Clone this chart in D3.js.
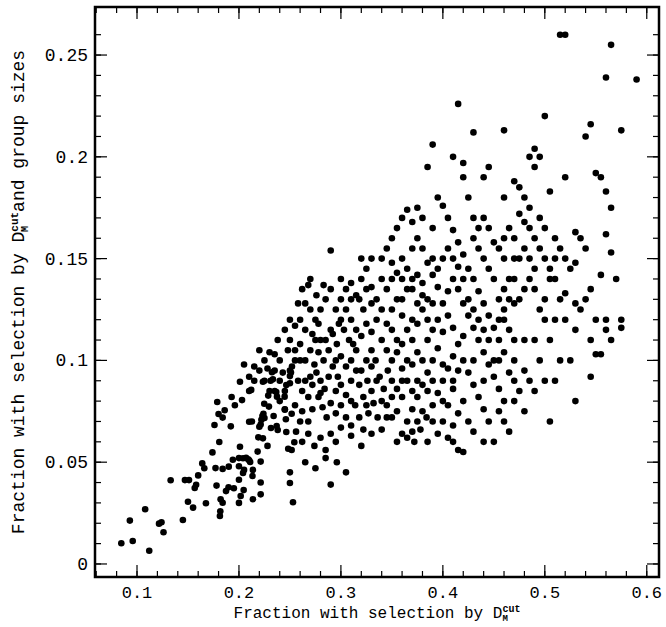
<!DOCTYPE html>
<html><head><meta charset="utf-8">
<script src="https://cdn.jsdelivr.net/npm/d3@7"></script>
<style>body{margin:0;background:#fff}</style></head>
<body><svg id="c" width="666" height="627"></svg>
<script>
const xTicks=[0.1,0.2,0.3,0.4,0.5,0.6];
const yTicks=[0,0.05,0.1,0.15,0.2,0.25];
const xTickLabels=["0.1","0.2","0.3","0.4","0.5","0.6"];
const yTickLabels=["0","0.05","0.1","0.15","0.2","0.25"];
const pointsLow=[[.0846,.0102],[.0958,.0113],[.112,.0065],[.093,.0213],[.108,.0269],[.1216,.0198],[.124,.0205],[.126,.0156],[.145,.0216],[.133,.0411],[.147,.0412],[.151,.0412],[.150,.0306],[.155,.0277],[.1566,.0373],[.158,.0389],[.160,.0435],[.164,.0494],[.166,.047],[.1676,.0298],[.174,.0548],[.177,.0471],[.178,.0385],[.1807,.0599],[.176,.0683],[.1787,.0796],[.180,.0737],[.184,.0719],[.186,.0755],[.192,.0676],[.1928,.082],[.196,.078],[.201,.0895],[.203,.0805],[.184,.0467],[.190,.0478],[.194,.0512],[.182,.0318],[.184,.0301],[.1817,.0259],[.1813,.0236],[.1873,.0358],[.1898,.0377],[.195,.0372],[.200,.048],[.200,.0414],[.201,.0576],[.200,.052],[.204,.0519],[.207,.0522],[.209,.0514],[.210,.0509],[.211,.0501],[.205,.0462],[.204,.0447],[.2046,.0363],[.2017,.0334],[.2,.03],[.2137,.0462],[.2133,.0432],[.2213,.0503],[.2213,.04],[.2213,.0342],[.2137,.0318],[.2183,.0552],[.219,.0622],[.228,.058],[.2235,.0617],[.210,.0699],[.2127,.070],[.220,.0674],[.2213,.0685],[.222,.0708],[.225,.0717],[.224,.0738],[.223,.0727],[.2248,.0787],[.2294,.0773],[.2287,.0827],[.234,.0727],[.2373,.0822],[.2366,.0845],[.2235,.0895],[.231,.090],[.2333,.0907],[.212,.0855],[.2314,.0668],[.237,.0678],[.238,.0658],[.2464,.0648],[.245,.0758],[.246,.0711],[.2448,.0822],[.2464,.0879],[.25,.0888],[.251,.094],[.25,.0923],[.2324,.0942],[.2517,.0738],[.2483,.0566],[.2517,.056],[.25,.045],[.25,.0398],[.253,.0303],[.2543,.0598],[.29,.039]];
const pointsMid=[[.205,.098],[.21,.092],[.215,.097],[.22,.105],[.225,.1],[.23,.104],[.228,.096],[.235,.103],[.24,.1],[.243,.094],[.238,.11],[.245,.115],[.25,.11],[.248,.105],[.255,.117],[.26,.12],[.258,.128],[.262,.135],[.268,.137],[.265,.128],[.27,.125],[.275,.12],[.272,.113],[.278,.118],[.28,.125],[.285,.13],[.29,.135],[.283,.137],[.29,.154],[.295,.125],[.298,.118],[.3,.13],[.305,.125],[.31,.12],[.303,.115],[.308,.11],[.312,.108],[.318,.13],[.322,.125],[.325,.118],[.32,.112],[.315,.105],[.31,.1],[.305,.097],[.3,.102],[.296,.108],[.292,.113],[.288,.105],[.283,.1],[.278,.104],[.274,.098],[.27,.092],[.265,.1],[.26,.108],[.255,.1],[.252,.097],[.258,.09],[.262,.085],[.268,.082],[.272,.088],[.276,.094],[.28,.09],[.284,.086],[.288,.092],[.292,.097],[.297,.092],[.3,.088],[.305,.083],[.31,.09],[.315,.095],[.318,.088],[.322,.082],[.326,.09],[.33,.097],[.334,.1],[.338,.092],[.342,.086],[.346,.095],[.35,.1],[.262,.075],[.268,.07],[.272,.076],[.278,.082],[.282,.077],[.286,.072],[.29,.079],[.295,.074],[.3,.078],[.305,.072],[.31,.068],[.314,.078],[.318,.072],[.322,.066],[.327,.074],[.332,.079],[.336,.072],[.34,.066],[.345,.078],[.35,.072],[.256,.065],[.262,.06],[.268,.064],[.274,.058],[.28,.062],[.285,.056],[.29,.064],[.295,.06],[.3,.067],[.31,.063],[.32,.058],[.33,.064],[.265,.05],[.275,.047],[.285,.052],[.296,.05],[.305,.045],[.27,.14],[.276,.132],[.3,.14],[.305,.135],[.31,.138],[.315,.132],[.32,.14],[.325,.145],[.33,.136],[.335,.13],[.34,.14],[.345,.135],[.335,.12],[.33,.114],[.34,.11],[.345,.118],[.35,.125],[.355,.13],[.36,.122],[.365,.115],[.36,.108],[.355,.104],[.36,.096],[.365,.09],[.37,.098],[.375,.104],[.37,.11],[.375,.118],[.38,.125],[.385,.13],[.38,.138],[.375,.142],[.37,.135],[.365,.145],[.36,.15],[.355,.143],[.35,.148],[.345,.155],[.35,.16],[.355,.165],[.36,.17],[.365,.174],[.37,.168],[.375,.16],[.38,.155],[.385,.148],[.39,.142],[.395,.136],[.39,.128],[.395,.12],[.4,.114],[.395,.106],[.39,.1],[.385,.094],[.38,.088],[.375,.082],[.37,.076],[.365,.07],[.36,.064],[.355,.06],[.36,.082],[.355,.086],[.35,.09],[.365,.062],[.372,.06],[.378,.066],[.384,.072],[.39,.078],[.395,.084],[.4,.09],[.405,.096],[.41,.102],[.415,.108],[.41,.116],[.405,.122],[.4,.128],[.405,.134],[.41,.14],[.415,.146],[.42,.152],[.415,.158],[.41,.164],[.405,.17],[.4,.176],[.395,.18],[.385,.195],[.39,.206],[.41,.2],[.42,.197],[.42,.19],[.415,.226],[.43,.212],[.425,.18],[.43,.17],[.435,.165],[.44,.17],[.445,.165],[.44,.19],[.445,.195],[.45,.158],[.455,.155],[.46,.16],[.465,.165],[.47,.16],[.475,.172],[.48,.168],[.485,.165],[.49,.16],[.495,.155],[.5,.15],[.505,.145],[.51,.14],[.46,.18],[.47,.188],[.475,.185],[.48,.18],[.46,.213],[.485,.2],[.49,.195],[.49,.204],[.495,.2],[.5,.22],[.505,.183],[.425,.145],[.43,.14],[.435,.134],[.44,.128],[.445,.122],[.45,.116],[.455,.11],[.46,.104],[.42,.128],[.425,.122],[.43,.116],[.435,.11],[.44,.104],[.445,.098],[.45,.092],[.455,.086],[.46,.08],[.42,.1],[.425,.094],[.43,.088],[.435,.082],[.44,.076],[.445,.07],[.42,.08],[.415,.074],[.41,.068],[.405,.062],[.4,.07],[.395,.064],[.41,.086],[.405,.078],[.4,.098],[.42,.055],[.415,.056],[.45,.06],[.465,.065],[.47,.08],[.465,.094],[.47,.1],[.48,.095],[.49,.085],[.5,.09],[.48,.11],[.475,.13],[.47,.128],[.48,.135],[.485,.14],[.49,.145],[.465,.14],[.46,.135],[.455,.13],[.45,.14],[.445,.145],[.44,.15],[.435,.155],[.43,.16],[.5,.12],[.505,.11],[.51,.12],[.515,.1],[.52,.12],[.515,.13],[.52,.133],[.53,.128],[.54,.13],[.545,.135],[.505,.07],[.525,.1],[.53,.08],[.545,.092],[.545,.11],[.55,.12],[.53,.148],[.53,.163],[.535,.16],[.54,.155],[.555,.142],[.555,.103],[.55,.103],[.56,.12],[.565,.11],[.56,.115],[.575,.12],[.575,.116],[.57,.14],[.565,.153],[.56,.162],[.565,.175],[.56,.183],[.555,.19],[.55,.192],[.52,.19],[.54,.21],[.545,.216],[.575,.213],[.56,.239],[.59,.238],[.565,.255],[.515,.26],[.52,.26],[.51,.16],[.5,.165],[.495,.17],[.485,.175],[.47,.15],[.46,.15],[.39,.165],[.38,.17],[.375,.175],[.37,.155],[.36,.14],[.35,.14],[.34,.15],[.33,.15],[.32,.15],[.345,.105],[.325,.1],[.32,.095],[.33,.085],[.34,.08],[.35,.082],[.385,.11],[.39,.115],[.38,.1],[.375,.09],[.37,.085],[.385,.085],[.39,.09],[.41,.09],[.415,.095],[.42,.112],[.43,.1],[.44,.09],[.455,.1],[.46,.12],[.465,.115],[.47,.11],[.47,.09],[.475,.085],[.48,.075],[.46,.07],[.455,.075],[.44,.06],[.43,.065],[.425,.07],[.41,.06],[.4,.08],[.39,.07],[.385,.06],[.38,.075],[.375,.07],[.37,.065],[.33,.105],[.315,.115],[.29,.115],[.285,.11],[.275,.11],[.265,.115],[.25,.095],[.245,.085],[.24,.08],[.235,.085],[.245,.076],[.255,.078],[.26,.07],[.265,.09],[.28,.084],[.295,.085],[.31,.08],[.325,.078],[.335,.09],[.345,.072],[.355,.075],[.36,.09],[.365,.1],[.37,.12],[.375,.128],[.38,.132],[.385,.12],[.39,.15],[.395,.145],[.4,.15],[.405,.155],[.41,.15],[.415,.135],[.42,.14],[.425,.13],[.43,.125],[.435,.12],[.44,.115],[.445,.11],[.45,.1],[.455,.12],[.46,.125],[.465,.13],[.47,.14],[.475,.15],[.48,.155],[.485,.15],[.49,.135],[.495,.125],[.5,.13],[.505,.14],[.51,.15],[.515,.155],[.52,.15],[.525,.145],[.49,.11],[.495,.1],[.485,.09],[.51,.09],[.53,.115],[.535,.125],[.35,.115],[.355,.11],[.36,.13],[.365,.135],[.37,.14],[.34,.125],[.33,.128],[.325,.135],[.31,.13],[.3,.12],[.295,.1],[.28,.11],[.27,.105],[.26,.1],[.255,.105],[.25,.12],[.24,.09],[.235,.095],[.23,.085],[.225,.09],[.22,.095],[.215,.09],[.21,.085]];
const points=pointsLow.concat(pointsMid);

const W=666,H=627,L=95,R=659,T=7,B=577;
const x=d3.scaleLinear().domain([0.0588,0.612]).range([L,R]);
const y=d3.scaleLinear().domain([-0.0064,0.2736]).range([B,T]);
const svg=d3.select("#c");
const font="'Liberation Mono', monospace";
svg.append("g").selectAll("circle").data(points).join("circle")
 .attr("cx",d=>x(d[0])).attr("cy",d=>y(d[1])).attr("r",3.3).attr("fill","#000");
svg.append("rect").attr("x",L).attr("y",T).attr("width",R-L).attr("height",B-T)
 .attr("fill","none").attr("stroke","#000").attr("stroke-width",2.5);
const minorX=d3.range(0.06,0.612,0.02), minorY=d3.range(0,0.27,0.01);
function ticks(vals,len,isX){
 vals.forEach(v=>{
  if(isX){const p=x(v);
   svg.append("line").attr("x1",p).attr("x2",p).attr("y1",B).attr("y2",B-len).attr("stroke","#000").attr("stroke-width",1.2);
   svg.append("line").attr("x1",p).attr("x2",p).attr("y1",T).attr("y2",T+len).attr("stroke","#000").attr("stroke-width",1.2);
  } else {const p=y(v);
   svg.append("line").attr("y1",p).attr("y2",p).attr("x1",L).attr("x2",L+len).attr("stroke","#000").attr("stroke-width",1.2);
   svg.append("line").attr("y1",p).attr("y2",p).attr("x1",R).attr("x2",R-len).attr("stroke","#000").attr("stroke-width",1.2);
  }});
}
ticks(minorX,6,true);ticks(xTicks,12,true);ticks(minorY,6,false);ticks(yTicks,12,false);
xTicks.forEach((v,i)=>svg.append("text").attr("x",x(v)).attr("y",B+21).attr("text-anchor","middle")
 .attr("font-family",font).attr("font-size",17).text(xTickLabels[i]));
yTicks.forEach((v,i)=>svg.append("text").attr("x",L-7).attr("y",y(v)+6).attr("text-anchor","end")
 .attr("font-family",font).attr("font-size",18).text(yTickLabels[i]));
const xl=svg.append("text").attr("x",(L+R)/2).attr("y",B+41).attr("text-anchor","middle")
 .attr("font-family",font).attr("font-size",16);
xl.append("tspan").text("Fraction with selection by D");
xl.append("tspan").attr("dy",-6).attr("font-size",10).attr("font-weight","bold").text("cut");
xl.append("tspan").attr("dx",-18).attr("dy",9).attr("font-size",9).attr("font-weight","bold").text("M");
const yl=svg.append("text").attr("transform",`translate(24,${(T+B)/2}) rotate(-90)`).attr("text-anchor","middle")
 .attr("font-family",font).attr("font-size",18);
yl.append("tspan").text("Fraction with selection by D");
yl.append("tspan").attr("dy",-6).attr("font-size",11).attr("font-weight","bold").text("cut");
yl.append("tspan").attr("dx",-20).attr("dy",10).attr("font-size",10).attr("font-weight","bold").text("M");
yl.append("tspan").attr("dx",14).attr("dy",-4).text("and group sizes");
</script></body></html>
